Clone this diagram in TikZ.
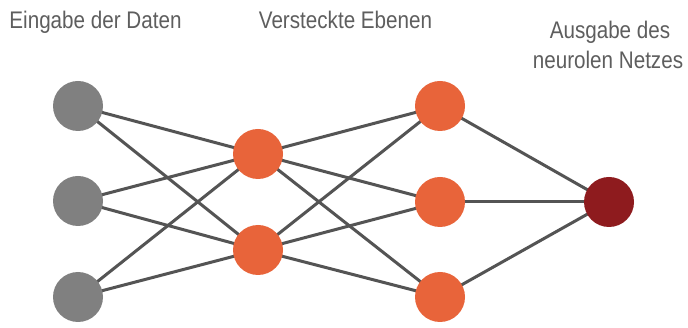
\documentclass[tikz,border=0pt]{standalone}
\usepackage{fontspec}
\setmainfont{Liberation Sans}[FakeStretch=0.86]
\definecolor{inputgray}{HTML}{808080}
\definecolor{hidorange}{HTML}{E8643A}
\definecolor{outred}{HTML}{8E1B1E}
\definecolor{edgegray}{HTML}{545454}
\definecolor{textgray}{HTML}{5E5E5E}
\begin{document}
\begin{tikzpicture}[x=1pt,y=-1pt,
  neuron/.style={circle,minimum size=50pt,inner sep=0pt,draw=none},
  innode/.style={neuron,fill=inputgray},
  hidnode/.style={neuron,fill=hidorange},
  outnode/.style={neuron,fill=outred},
  edge/.style={draw=edgegray,line width=3pt},
  lbl/.style={text=textgray,font=\fontsize{24}{30}\selectfont,anchor=base,inner sep=0pt,align=center}]
\useasboundingbox[fill=white] (0,0) rectangle (688,328);
% labels
\node[lbl] (l1) at (95.5,29) {Eingabe der Daten};
\node[lbl] (l2) at (345.5,29) {Versteckte Ebenen};
\node[lbl] (l3a) at (610,39) {Ausgabe des};
\node[lbl] (l3b) at (608,69) {neurolen Netzes};
% node positions
\coordinate (i1) at (78,106);
\coordinate (i2) at (78,201);
\coordinate (i3) at (78,297);
\coordinate (h1) at (258,154);
\coordinate (h2) at (258,250);
\coordinate (g1) at (440,106);
\coordinate (g2) at (440,202);
\coordinate (g3) at (440,297);
\coordinate (o) at (609,202);
% edges
\foreach \a in {i1,i2,i3}{\foreach \b in {h1,h2}{\draw[edge] (\a) -- (\b);}}
\foreach \a in {h1,h2}{\foreach \b in {g1,g2,g3}{\draw[edge] (\a) -- (\b);}}
\foreach \a in {g1,g2,g3}{\draw[edge] (\a) -- (o);}
% neurons
\node[innode] (n-i1) at (i1) {};
\node[innode] (n-i2) at (i2) {};
\node[innode] (n-i3) at (i3) {};
\node[hidnode] (n-h1) at (h1) {};
\node[hidnode] (n-h2) at (h2) {};
\node[hidnode] (n-g1) at (g1) {};
\node[hidnode] (n-g2) at (g2) {};
\node[hidnode] (n-g3) at (g3) {};
\node[outnode] (n-o) at (o) {};
\end{tikzpicture}
\end{document}
